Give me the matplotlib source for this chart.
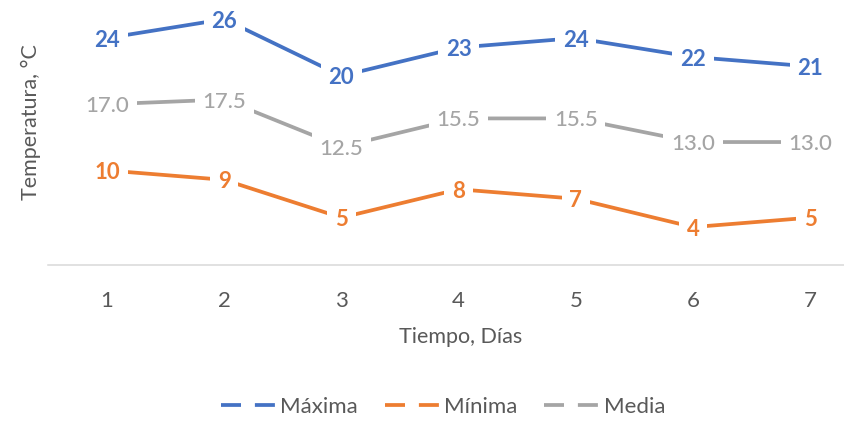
import matplotlib
matplotlib.use('Agg')
import matplotlib.pyplot as plt
from matplotlib.lines import Line2D

# Temperaturas diarias
dias = [1, 2, 3, 4, 5, 6, 7]
maxima = [24, 26, 20, 23, 24, 22, 21]
minima = [10, 9, 5, 8, 7, 4, 5]
media = [17.0, 17.5, 12.5, 15.5, 15.5, 13.0, 13.0]

azul = '#4472C4'
naranja = '#ED7D31'
gris = '#A5A5A5'
texto = '#595959'

plt.rcParams['font.family'] = ['Lato', 'DejaVu Sans']
plt.rcParams['lines.scale_dashes'] = False

fig = plt.figure(figsize=(8.45, 4.28), dpi=100)
ax = fig.add_axes([0.0573, 0.3811, 0.9709, 0.6624])

series = [
    (maxima, azul, 'Máxima', 'bold', '{:.0f}'),
    (minima, naranja, 'Mínima', 'bold', '{:.0f}'),
    (media, gris, 'Media', 'medium', '{:.1f}'),
]

for valores, color, nombre, peso, fmt in series:
    ax.plot(dias, valores, color=color, lw=2.7, solid_capstyle='round', zorder=2)
    for d, v in zip(dias, valores):
        ax.annotate(fmt.format(v), (d, v), xytext=(0, -1.5), textcoords='offset points',
                    ha='center', va='center', fontsize=16, fontweight=peso,
                    color=color, zorder=3,
                    bbox=dict(boxstyle='square,pad=0.35', fc='white', ec='none'))

ax.set_xlim(0.5, 7.5)
ax.set_ylim(0, 30)
ax.set_xticks(dias)
ax.set_xticklabels([str(d) for d in dias])
ax.set_yticks([])
ax.tick_params(axis='x', length=0, pad=19, labelsize=16, labelcolor=texto)
for s in ['top', 'right', 'left']:
    ax.spines[s].set_visible(False)
ax.spines['bottom'].set_color('#D9D9D9')
ax.spines['bottom'].set_linewidth(1.1)

fig.text(461 / 845, 1 - 337 / 428, 'Tiempo, Días', ha='center', va='center',
         fontsize=15.5, color=texto)
fig.text(31 / 845, 1 - 122 / 428, 'Temperatura, °C', ha='center', va='center',
         rotation=90, fontsize=15.5, color=texto)

handles = [Line2D([], [], color=c, lw=2.7, dashes=(14.4, 10)) for _, c, _, _, _ in series]
labels = [n for _, _, n, _, _ in series]
fig.legend(handles, labels, loc='center', bbox_to_anchor=(443 / 845, 1 - 407 / 428),
           ncol=3, frameon=False, fontsize=16, labelcolor=texto,
           handlelength=2.43, handletextpad=0.25, columnspacing=1.2)

fig.savefig('out.png', dpi=100)
